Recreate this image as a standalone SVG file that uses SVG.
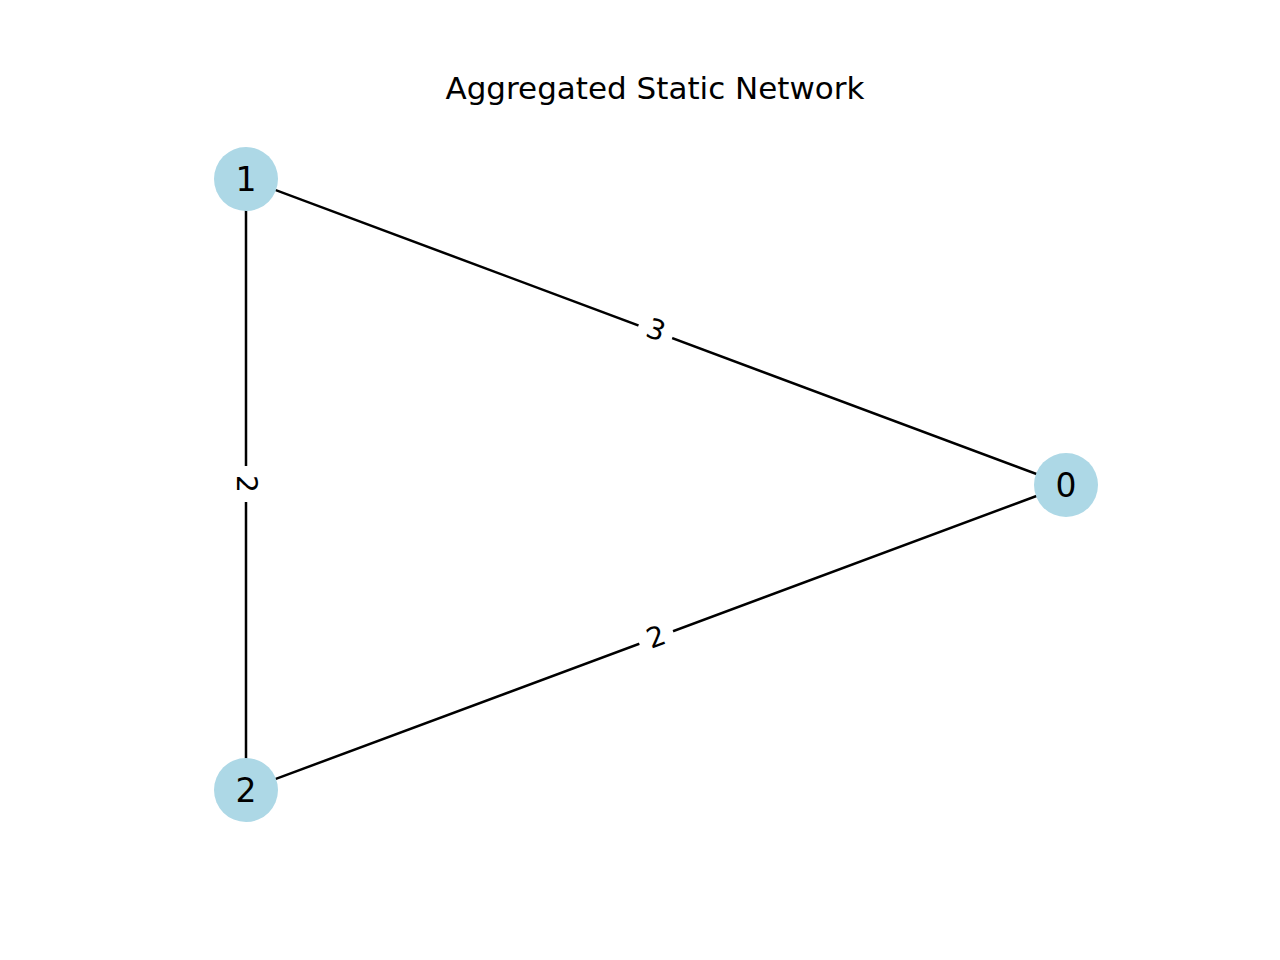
<svg xmlns="http://www.w3.org/2000/svg" width="1280" height="960" viewBox="0 0 1280 960">
<style>
text{font-family:"DejaVu Sans",sans-serif;fill:#000}
.n{font-size:33px;text-anchor:middle;dominant-baseline:central}
.e{font-size:28px;text-anchor:middle;dominant-baseline:central}
line{stroke:#000;stroke-width:2.5}
circle{fill:#add8e6}
</style>
<rect width="1280" height="960" fill="#fff"/>
<text x="655" y="99" font-size="31" text-anchor="middle">Aggregated Static Network</text>
<g id="edges">
<line x1="246" y1="179" x2="1066" y2="485"/>
<line x1="246" y1="790" x2="1066" y2="485"/>
<line x1="246" y1="179" x2="246" y2="790"/>
<g transform="translate(656,330) rotate(20.46)"><rect x="-18" y="-17" width="36" height="34" fill="#fff"/><text class="e">3</text></g>
<g transform="translate(656,637) rotate(-20.46)"><rect x="-18" y="-17" width="36" height="34" fill="#fff"/><text class="e">2</text></g>
<g transform="translate(246,484) rotate(90)"><rect x="-18" y="-17" width="36" height="34" fill="#fff"/><text class="e">2</text></g>
</g>
<g id="node0"><circle cx="1066" cy="485" r="32"/><text class="n" x="1066" y="485">0</text></g>
<g id="node1"><circle cx="246" cy="179" r="32"/><text class="n" x="246" y="179">1</text></g>
<g id="node2"><circle cx="246" cy="790" r="32"/><text class="n" x="246" y="790">2</text></g>
</svg>
